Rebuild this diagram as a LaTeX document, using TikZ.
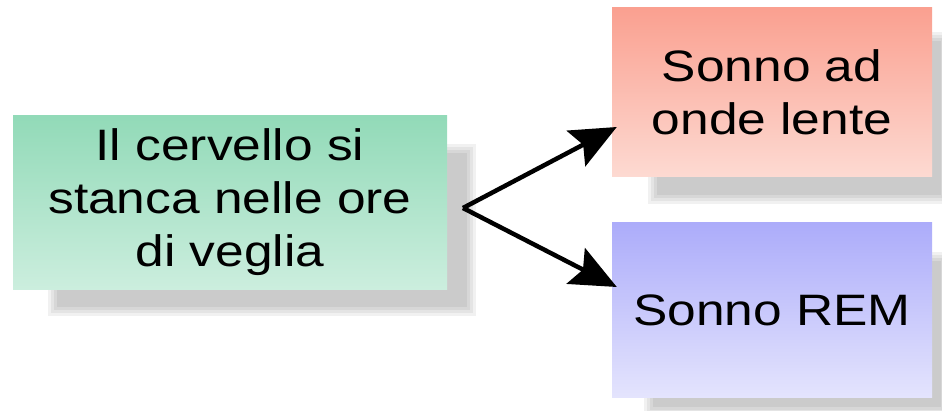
\documentclass[tikz,border=0pt]{standalone}
\usepackage{fontspec}
\setmainfont{Liberation Sans}[FakeStretch=1.17]
\usetikzlibrary{calc,arrows.meta}

\definecolor{greenTop}{RGB}{146,218,184}
\definecolor{greenBot}{RGB}{204,238,222}
\definecolor{redTop}{RGB}{250,160,144}
\definecolor{redBot}{RGB}{253,218,210}
\definecolor{blueTop}{RGB}{172,172,250}
\definecolor{blueBot}{RGB}{228,228,253}

\tikzset{
  box/.style={rectangle, inner sep=0pt, align=center,
    font=\fontsize{44}{53}\selectfont, text=black},
  link/.style={line width=4.5pt, -{Stealth[length=46pt,width=40pt,inset=8pt]}},
}

% soft drop shadow: stacked translucent rectangles
\newcommand{\softshadow}[2]{%
  \foreach \g in {0,3,6,9}{
    \fill[black, opacity=0.055] ($#1+(\g,\g)$) rectangle ($#2-(\g,\g)$);
  }%
}

\begin{document}
\begin{tikzpicture}[x=1pt,y=-1pt]
\useasboundingbox (0,0) rectangle (942,411);

% shadows
\softshadow{(48,144)}{(476,316)}
\softshadow{(648,32)}{(950,204)}
\softshadow{(644,252)}{(950,416)}

% boxes
\node[box, minimum width=434pt, minimum height=174pt,
      top color=greenTop, bottom color=greenBot] (cause) at (230,203)
      {\raisebox{-6pt}{\begin{tabular}{@{}c@{}}Il cervello si\\stanca nelle ore\\di veglia\end{tabular}}};
\node[box, minimum width=320pt, minimum height=169pt,
      top color=redTop, bottom color=redBot] (slow) at (772,92.5)
      {Sonno ad\\onde lente};
\node[box, minimum width=320pt, minimum height=174pt,
      top color=blueTop, bottom color=blueBot] (rem) at (772,310)
      {Sonno REM};

% connectors
\coordinate (fork) at (463,208);
\draw[link] (fork) -- ($(slow.west)+(5,34.5)$);
\draw[link] (fork) -- ($(rem.west)+(5,-23)$);
\end{tikzpicture}
\end{document}
